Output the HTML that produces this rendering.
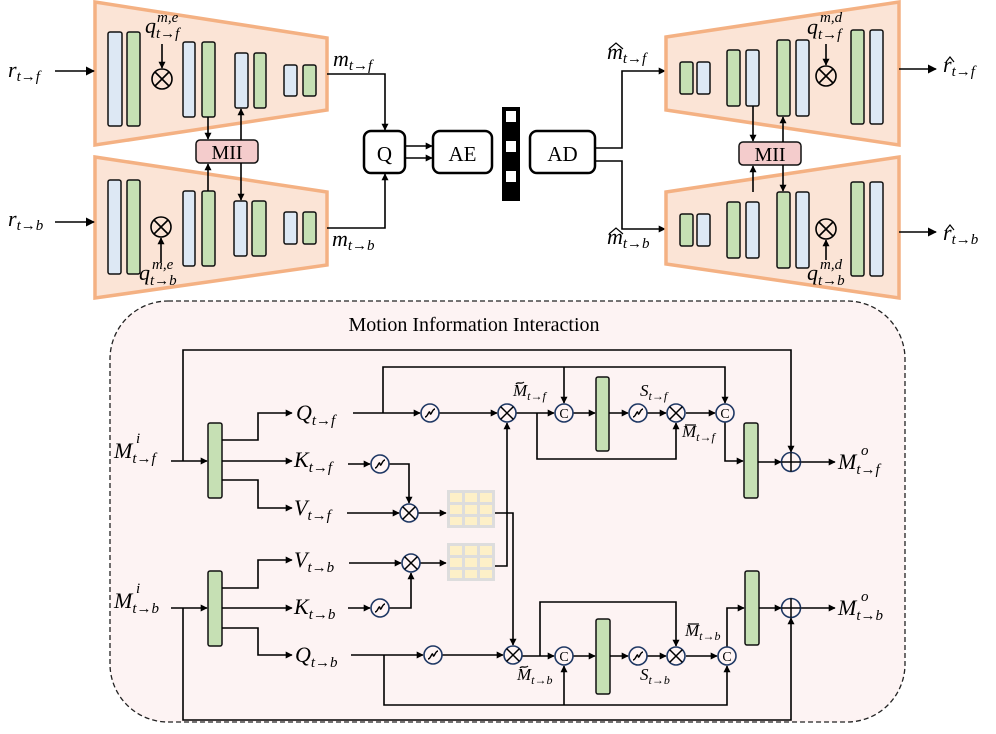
<!DOCTYPE html>
<html><head><meta charset="utf-8"><style>
html,body{margin:0;padding:0;background:#fff}
svg{display:block}
text{font-family:"Liberation Serif",serif}
.m{font-style:italic;font-size:22px}
.s{font-style:italic;font-size:15px}
.m2{font-style:italic;font-size:17px}
.s2{font-style:italic;font-size:12px}
.ln{stroke:#000;stroke-width:1.6;fill:none}
.hl{stroke:#000;stroke-width:1.2;fill:none}
.bl{fill:#dde8f4;stroke:#111;stroke-width:1.5}
.gr{fill:#c6e0b4;stroke:#111;stroke-width:1.5}
.tr{fill:#fbe4d6;stroke:#f4b183;stroke-width:3.5}
.ot{fill:none;stroke:#000;stroke-width:1.6}
.nv{fill:#fff5f5;stroke:#1f3864;stroke-width:1.6}
</style></head><body>
<svg width="996" height="734" viewBox="0 0 996 734" xmlns="http://www.w3.org/2000/svg">
<defs>
<marker id="a" viewBox="0 0 10 10" refX="9" refY="5" markerWidth="7" markerHeight="7" orient="auto-start-reverse" markerUnits="userSpaceOnUse"><path d="M0,0L10,5L0,10z" fill="#000"/></marker>
<marker id="b" viewBox="0 0 10 10" refX="9" refY="5" markerWidth="9" markerHeight="9" orient="auto" markerUnits="userSpaceOnUse"><path d="M0,0L10,5L0,10z" fill="#000"/></marker>
<g id="ox"><circle r="10" class="ot" fill="none"/><path d="M-7,-7L7,7M7,-7L-7,7" class="ln"/></g>
<g id="oxn"><circle r="9" class="nv"/><path d="M-6.4,-6.4L6.4,6.4M6.4,-6.4L-6.4,6.4" stroke="#000" stroke-width="1.5"/></g>
<g id="sg"><circle r="9" class="nv"/><path d="M-5,4C-2,4 -1,-4 0,0C1,4 2,-4 5,-4" stroke="#000" stroke-width="1.4" fill="none"/></g>
<g id="cc"><circle r="9" class="nv"/><text x="0" y="5" text-anchor="middle" font-size="14">C</text></g>
<g id="pl"><circle r="9.5" class="nv"/><path d="M-9.5,0H9.5M0,-9.5V9.5" stroke="#000" stroke-width="1.5"/></g>
<g id="grid"><rect x="0" y="0" width="48" height="38" fill="#ddd"/>
<g fill="#fdf0c8"><rect x="3" y="3" width="12" height="9"/><rect x="18" y="3" width="12" height="9"/><rect x="33" y="3" width="12" height="9"/><rect x="3" y="15" width="12" height="9"/><rect x="18" y="15" width="12" height="9"/><rect x="33" y="15" width="12" height="9"/><rect x="3" y="27" width="12" height="8"/><rect x="18" y="27" width="12" height="8"/><rect x="33" y="27" width="12" height="8"/></g></g>
</defs>

<!-- ============ TOP LEFT ENCODERS ============ -->
<polygon class="tr" points="95,2 327,38 327,110 95,145"/>
<rect class="bl" x="108" y="32" width="14" height="94" rx="2"/><rect class="gr" x="127" y="32" width="13" height="94" rx="2"/>
<use href="#ox" x="162" y="79"/>
<rect class="bl" x="183" y="42" width="12" height="75" rx="2"/><rect class="gr" x="202" y="42" width="13" height="75" rx="2"/>
<rect class="bl" x="235" y="53" width="13" height="55" rx="2"/><rect class="gr" x="254" y="53" width="12" height="55" rx="2"/>
<rect class="bl" x="284" y="65" width="13" height="31" rx="2"/><rect class="gr" x="303" y="65" width="13" height="31" rx="2"/>
<text class="m" x="145" y="33">q<tspan class="s" dy="5">t→f</tspan></text><text class="s" x="157" y="22">m,e</text>
<line class="ln" x1="162" y1="44" x2="162" y2="68" marker-end="url(#a)"/>

<polygon class="tr" points="95,157 327,192 327,265 95,298"/>
<rect class="bl" x="108" y="180" width="13" height="94" rx="2"/><rect class="gr" x="127" y="180" width="13" height="94" rx="2"/>
<use href="#ox" x="161" y="227"/>
<rect class="bl" x="183" y="191" width="12" height="75" rx="2"/><rect class="gr" x="202" y="191" width="13" height="75" rx="2"/>
<rect class="bl" x="234" y="201" width="13" height="55" rx="2"/><rect class="gr" x="252" y="201" width="14" height="55" rx="2"/>
<rect class="bl" x="284" y="212" width="13" height="32" rx="2"/><rect class="gr" x="303" y="212" width="13" height="32" rx="2"/>
<line class="ln" x1="161" y1="262" x2="161" y2="238" marker-end="url(#a)"/>
<text class="m" x="139" y="280">q<tspan class="s" dy="5">t→b</tspan></text><text class="s" x="152" y="269">m,e</text>

<rect x="196" y="140" width="62" height="23" rx="4" fill="#f4cccc" stroke="#111" stroke-width="1.5"/>
<text x="227" y="159" text-anchor="middle" font-size="20">MII</text>
<line class="ln" x1="208" y1="117" x2="208" y2="139" marker-end="url(#a)"/>
<line class="ln" x1="241" y1="140" x2="241" y2="109" marker-end="url(#a)"/>
<line class="ln" x1="208" y1="191" x2="208" y2="164" marker-end="url(#a)"/>
<line class="ln" x1="241" y1="163" x2="241" y2="200" marker-end="url(#a)"/>

<text class="m" x="8" y="77">r<tspan class="s" dy="4">t→f</tspan></text>
<line class="ln" x1="55" y1="71" x2="94" y2="71" marker-end="url(#b)"/>
<text class="m" x="8" y="226">r<tspan class="s" dy="4">t→b</tspan></text>
<line class="ln" x1="55" y1="222" x2="94" y2="222" marker-end="url(#b)"/>

<text class="m" x="333" y="66">m<tspan class="s" dy="4">t→f</tspan></text>
<polyline class="ln" points="327,74 385,74 385,130" marker-end="url(#a)"/>
<text class="m" x="332" y="246">m<tspan class="s" dy="4">t→b</tspan></text>
<polyline class="ln" points="327,228 385,228 385,174" marker-end="url(#a)"/>

<rect x="364" y="131" width="41" height="42" rx="7" fill="#fff" stroke="#000" stroke-width="2.5"/>
<text x="384.5" y="161" text-anchor="middle" font-size="21">Q</text>
<rect x="433" y="131" width="59" height="42" rx="7" fill="#fff" stroke="#000" stroke-width="2.5"/>
<text x="462.5" y="161" text-anchor="middle" font-size="21">AE</text>
<line class="ln" x1="405" y1="146" x2="432" y2="146" marker-end="url(#a)"/>
<line class="ln" x1="405" y1="158" x2="432" y2="158" marker-end="url(#a)"/>

<rect x="502" y="107" width="18" height="94" fill="#000"/>
<rect x="506" y="111" width="10" height="11" fill="#fff"/><rect x="506" y="141" width="10" height="11" fill="#fff"/><rect x="506" y="171" width="10" height="11" fill="#fff"/>

<rect x="530" y="131" width="65" height="42" rx="7" fill="#fff" stroke="#000" stroke-width="2.5"/>
<text x="562.5" y="161" text-anchor="middle" font-size="21">AD</text>
<polyline class="ln" points="595,148 622,148 622,71 665,71" marker-end="url(#a)"/>
<polyline class="ln" points="595,161 622,161 622,229 665,229" marker-end="url(#a)"/>
<text class="m" x="607" y="59">m<tspan class="s" dy="4">t→f</tspan></text><path class="hl" d="M609,49L616,43L623,49"/>
<text class="m" x="607" y="244">m<tspan class="s" dy="4">t→b</tspan></text><path class="hl" d="M609,234L616,228L623,234"/>

<!-- ============ RIGHT DECODERS ============ -->
<polygon class="tr" points="666,37 899,2 899,145 666,110"/>
<rect class="gr" x="680" y="62" width="13" height="32" rx="2"/><rect class="bl" x="697" y="62" width="13" height="32" rx="2"/>
<rect class="gr" x="727" y="50" width="13" height="56" rx="2"/><rect class="bl" x="746" y="50" width="13" height="56" rx="2"/>
<rect class="gr" x="777" y="40" width="13" height="76" rx="2"/><rect class="bl" x="796" y="40" width="13" height="76" rx="2"/>
<use href="#ox" x="826" y="76"/>
<rect class="gr" x="851" y="30" width="13" height="94" rx="2"/><rect class="bl" x="870" y="30" width="13" height="94" rx="2"/>
<text class="m" x="807" y="34">q<tspan class="s" dy="5">t→f</tspan></text><text class="s" x="820" y="22">m,d</text>
<line class="ln" x1="826" y1="44" x2="826" y2="65" marker-end="url(#a)"/>
<line class="ln" x1="899" y1="69" x2="936" y2="69" marker-end="url(#b)"/>
<text class="m" x="943" y="72">r<tspan class="s" dy="4">t→f</tspan></text><path class="hl" d="M946,62L950,57L954,62"/>

<polygon class="tr" points="666,192 899,157 899,298 666,264"/>
<rect class="gr" x="680" y="214" width="13" height="32" rx="2"/><rect class="bl" x="697" y="214" width="13" height="32" rx="2"/>
<rect class="gr" x="727" y="202" width="13" height="56" rx="2"/><rect class="bl" x="746" y="202" width="13" height="56" rx="2"/>
<rect class="gr" x="777" y="192" width="13" height="76" rx="2"/><rect class="bl" x="796" y="192" width="13" height="76" rx="2"/>
<use href="#ox" x="826" y="229"/>
<rect class="gr" x="851" y="182" width="13" height="94" rx="2"/><rect class="bl" x="870" y="182" width="13" height="94" rx="2"/>
<line class="ln" x1="826" y1="260" x2="826" y2="240" marker-end="url(#a)"/>
<text class="m" x="807" y="280">q<tspan class="s" dy="5">t→b</tspan></text><text class="s" x="820" y="269">m,d</text>
<line class="ln" x1="899" y1="232" x2="936" y2="232" marker-end="url(#b)"/>
<text class="m" x="943" y="240">r<tspan class="s" dy="4">t→b</tspan></text><path class="hl" d="M946,230L950,225L954,230"/>

<rect x="739" y="142" width="62" height="23" rx="4" fill="#f4cccc" stroke="#111" stroke-width="1.5"/>
<text x="770" y="161" text-anchor="middle" font-size="20">MII</text>
<line class="ln" x1="753" y1="106" x2="753" y2="141" marker-end="url(#a)"/>
<line class="ln" x1="783" y1="142" x2="783" y2="117" marker-end="url(#a)"/>
<line class="ln" x1="753" y1="192" x2="753" y2="166" marker-end="url(#a)"/>
<line class="ln" x1="783" y1="165" x2="783" y2="191" marker-end="url(#a)"/>

<!-- ============ BOTTOM MII ============ -->
<rect x="110" y="301" width="795" height="421" rx="58" fill="#fdf3f3" stroke="#222" stroke-width="1.3" stroke-dasharray="5,3"/>
<text x="474" y="331" text-anchor="middle" font-size="20">Motion Information Interaction</text>

<!-- f branch -->
<text class="m" x="114" y="458">M<tspan class="s" dy="5">t→f</tspan></text><text class="s" x="136" y="443">i</text>
<line class="ln" x1="171" y1="461" x2="207" y2="461" marker-end="url(#a)"/>
<polyline class="ln" points="183,461 183,350 791,350 791,452" marker-end="url(#a)"/>
<rect class="gr" x="208" y="423" width="14" height="75" rx="2"/>
<polyline class="ln" points="222,440 258,440 258,413 292,413" marker-end="url(#a)"/>
<line class="ln" x1="222" y1="461" x2="292" y2="461" marker-end="url(#a)"/>
<polyline class="ln" points="222,480 258,480 258,508 292,508" marker-end="url(#a)"/>
<text class="m" x="296" y="420">Q<tspan class="s" dy="5">t→f</tspan></text>
<text class="m" x="294" y="467">K<tspan class="s" dy="5">t→f</tspan></text>
<text class="m" x="294" y="515">V<tspan class="s" dy="5">t→f</tspan></text>

<line class="ln" x1="353" y1="413" x2="420" y2="413" marker-end="url(#a)"/>
<polyline class="ln" points="383,413 383,367 725,367 725,403" marker-end="url(#a)"/>
<line class="ln" x1="564" y1="367" x2="564" y2="403" marker-end="url(#a)"/>
<line class="ln" x1="439" y1="413" x2="497" y2="413" marker-end="url(#a)"/>
<line class="ln" x1="516" y1="413" x2="554" y2="413" marker-end="url(#a)"/>
<polyline class="ln" points="537,413 537,459 676,459 676,423" marker-end="url(#a)"/>
<line class="ln" x1="573" y1="413" x2="595" y2="413" marker-end="url(#a)"/>
<rect class="gr" x="596" y="377" width="13" height="74" rx="2"/>
<line class="ln" x1="609" y1="413" x2="628" y2="413" marker-end="url(#a)"/>
<line class="ln" x1="647" y1="413" x2="666" y2="413" marker-end="url(#a)"/>
<line class="ln" x1="686" y1="413" x2="715" y2="413" marker-end="url(#a)"/>
<polyline class="ln" points="725,422 725,461 743,461" marker-end="url(#a)"/>
<rect class="gr" x="744" y="423" width="14" height="75" rx="2"/>
<line class="ln" x1="758" y1="462" x2="781" y2="462" marker-end="url(#a)"/>
<line class="ln" x1="801" y1="462" x2="835" y2="462" marker-end="url(#a)"/>
<use href="#sg" x="430" y="413"/><use href="#oxn" x="507" y="413"/><use href="#cc" x="564" y="413"/>
<use href="#sg" x="638" y="413"/><use href="#oxn" x="676" y="413"/><use href="#cc" x="725" y="413"/>
<use href="#pl" x="791" y="462"/>
<text class="m" x="838" y="469">M<tspan class="s" dy="5">t→f</tspan></text><text class="s" x="861" y="455">o</text>
<text class="m2" x="513" y="396">M<tspan class="s2" dy="4">t→f</tspan></text><path class="hl" d="M516,384C518,381 521,385 524,382"/>
<text class="m2" x="640" y="396">S<tspan class="s2" dy="4">t→f</tspan></text>
<text class="m2" x="682" y="437">M<tspan class="s2" dy="4">t→f</tspan></text><path class="hl" d="M685,425H696"/>

<!-- K/V f -->
<line class="ln" x1="348" y1="464" x2="370" y2="464" marker-end="url(#a)"/>
<polyline class="ln" points="389,464 409,464 409,503" marker-end="url(#a)"/>
<line class="ln" x1="347" y1="513" x2="399" y2="513" marker-end="url(#a)"/>
<line class="ln" x1="418" y1="513" x2="446" y2="513" marker-end="url(#a)"/>
<use href="#sg" x="380" y="464"/><use href="#oxn" x="409" y="513"/>
<use href="#grid" x="447" y="490"/>
<use href="#grid" x="447" y="543"/>
<polyline class="ln" points="495,513 513,513 513,645" marker-end="url(#a)"/>
<polyline class="ln" points="495,566 507,566 507,423" marker-end="url(#a)"/>

<!-- b branch -->
<text class="m" x="114" y="608">M<tspan class="s" dy="5">t→b</tspan></text><text class="s" x="136" y="593">i</text>
<line class="ln" x1="171" y1="608" x2="207" y2="608" marker-end="url(#a)"/>
<polyline class="ln" points="183,608 183,720 791,720 791,618" marker-end="url(#a)"/>
<rect class="gr" x="208" y="571" width="14" height="75" rx="2"/>
<polyline class="ln" points="222,588 258,588 258,560 292,560" marker-end="url(#a)"/>
<line class="ln" x1="222" y1="608" x2="292" y2="608" marker-end="url(#a)"/>
<polyline class="ln" points="222,628 258,628 258,655 292,655" marker-end="url(#a)"/>
<text class="m" x="294" y="567">V<tspan class="s" dy="5">t→b</tspan></text>
<text class="m" x="294" y="614">K<tspan class="s" dy="5">t→b</tspan></text>
<text class="m" x="295" y="662">Q<tspan class="s" dy="5">t→b</tspan></text>

<line class="ln" x1="349" y1="563" x2="401" y2="563" marker-end="url(#a)"/>
<line class="ln" x1="420" y1="563" x2="446" y2="563" marker-end="url(#a)"/>
<line class="ln" x1="348" y1="608" x2="370" y2="608" marker-end="url(#a)"/>
<polyline class="ln" points="389,608 411,608 411,573" marker-end="url(#a)"/>
<use href="#oxn" x="411" y="563"/><use href="#sg" x="380" y="608"/>

<line class="ln" x1="351" y1="655" x2="423" y2="655" marker-end="url(#a)"/>
<polyline class="ln" points="384,655 384,705 727,705 727,666" marker-end="url(#a)"/>
<line class="ln" x1="564" y1="705" x2="564" y2="666" marker-end="url(#a)"/>
<line class="ln" x1="442" y1="655" x2="503" y2="655" marker-end="url(#a)"/>
<line class="ln" x1="522" y1="656" x2="554" y2="656" marker-end="url(#a)"/>
<polyline class="ln" points="540,656 540,602 676,602 676,646" marker-end="url(#a)"/>
<line class="ln" x1="573" y1="656" x2="595" y2="656" marker-end="url(#a)"/>
<rect class="gr" x="596" y="619" width="14" height="75" rx="2"/>
<line class="ln" x1="610" y1="656" x2="628" y2="656" marker-end="url(#a)"/>
<line class="ln" x1="647" y1="656" x2="666" y2="656" marker-end="url(#a)"/>
<line class="ln" x1="686" y1="656" x2="717" y2="656" marker-end="url(#a)"/>
<polyline class="ln" points="727,647 727,608 744,608" marker-end="url(#a)"/>
<rect class="gr" x="745" y="571" width="14" height="74" rx="2"/>
<line class="ln" x1="759" y1="608" x2="781" y2="608" marker-end="url(#a)"/>
<line class="ln" x1="801" y1="608" x2="835" y2="608" marker-end="url(#a)"/>
<use href="#sg" x="433" y="655"/><use href="#oxn" x="513" y="655"/><use href="#cc" x="564" y="656"/>
<use href="#sg" x="638" y="656"/><use href="#oxn" x="676" y="656"/><use href="#cc" x="727" y="656"/>
<use href="#pl" x="791" y="608"/>
<text class="m" x="838" y="615">M<tspan class="s" dy="5">t→b</tspan></text><text class="s" x="861" y="601">o</text>
<text class="m2" x="517" y="680">M<tspan class="s2" dy="4">t→b</tspan></text><path class="hl" d="M520,668C522,665 525,669 528,666"/>
<text class="m2" x="640" y="680">S<tspan class="s2" dy="4">t→b</tspan></text>
<text class="m2" x="685" y="636">M<tspan class="s2" dy="4">t→b</tspan></text><path class="hl" d="M688,624H699"/>
</svg>
</body></html>
